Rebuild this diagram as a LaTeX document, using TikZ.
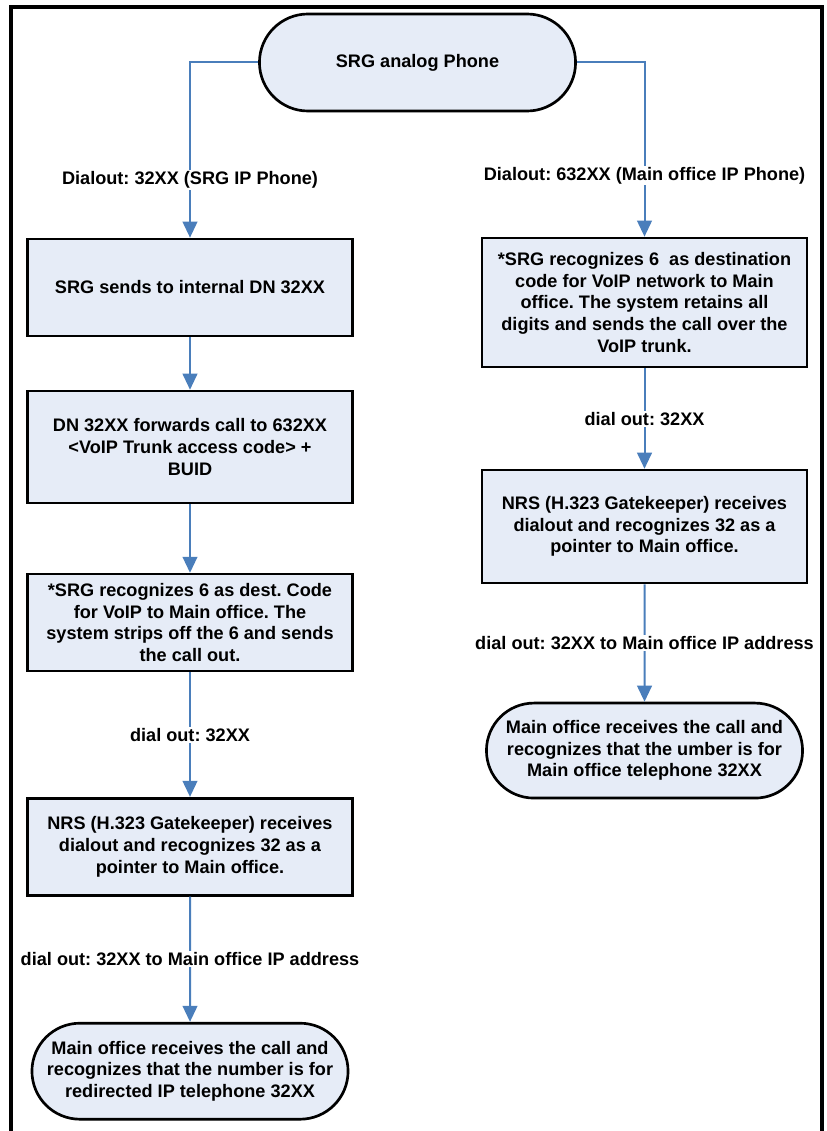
\documentclass[tikz,border=0pt]{standalone}
\usepackage{fontspec}
\setmainfont{Liberation Sans}
\usetikzlibrary{arrows.meta,positioning,shapes.misc,shadows}
\definecolor{flowblue}{RGB}{74,126,187}
\definecolor{boxfill}{RGB}{230,236,247}
\frenchspacing
\tikzset{
  txt/.style={font=\fontsize{13.6pt}{16.3pt}\selectfont\bfseries, align=center, text=black},
  stepbox/.style={rectangle, draw, line width=2pt, fill=boxfill, txt, minimum width=243.75pt, minimum height=72.75pt,
    drop shadow={shadow xshift=0.8pt, shadow yshift=-0.8pt, fill=black!45}},
  term/.style={rounded rectangle, draw, line width=2pt, fill=boxfill, txt, minimum width=243.75pt, minimum height=72.75pt,
    drop shadow={shadow xshift=0.8pt, shadow yshift=-0.8pt, fill=black!45}},
  lbl/.style={txt, fill=white, inner sep=1pt},
  arr/.style={-{Triangle[length=12pt,width=11pt]}, flowblue, line width=1.5pt},
  frame/.style={line width=3pt}
}
\begin{document}
\begin{tikzpicture}[x=0.75pt, y=-0.75pt]
\useasboundingbox (0,0) rectangle (827,1131);
\draw[frame] (10.5,1131) -- (10.5,7) -- (821.5,7) -- (821.5,1131);

\node[term] (phone) at (417.5,62.5) {SRG analog Phone};

\node[stepbox] (sends) at (190,287.5) {SRG sends to internal DN 32XX};
\node[stepbox, minimum height=84pt, below=39.3pt of sends] (fwd) {DN 32XX forwards call to 632XX\\<VoIP Trunk access code> +\\BUID};
\node[stepbox, below=51.3pt of fwd] (strip) {*SRG recognizes 6 as dest. Code\\for VoIP to Main office. The\\system strips off the 6 and sends\\the call out.};
\node[stepbox, below=93.3pt of strip] (nrsl) {NRS (H.323 Gatekeeper) receives\\dialout and recognizes 32 as a\\pointer to Main office.};
\node[term, minimum height=72pt, below=94pt of nrsl] (redir) {Main office receives the call and\\recognizes that the number is for\\redirected IP telephone 32XX};

\node[stepbox, minimum height=96.75pt] (retain) at (644.5,302.5) {*SRG recognizes 6~ as destination\\code for VoIP network to Main\\office. The system retains all\\digits and sends the call over the\\VoIP trunk.};
\node[stepbox, minimum height=84.75pt, below=75.3pt of retain] (nrsr) {NRS (H.323 Gatekeeper) receives\\dialout and recognizes 32 as a\\pointer to Main office.};
\node[term, minimum height=71.25pt, below=88pt of nrsr] (mainoff) {Main office receives the call and\\recognizes that the umber is for\\Main office telephone 32XX};

\draw[arr] (phone.west) -| node[lbl, pos=0.836]{Dialout: 32XX (SRG IP Phone)} (sends);
\draw[arr] (sends) -- (fwd);
\draw[arr] (fwd) -- (strip);
\draw[arr] (strip) -- node[lbl]{dial out: 32XX} (nrsl);
\draw[arr] (nrsl) -- node[lbl]{dial out: 32XX to Main office IP address} (redir);

\draw[arr] (phone.east) -| node[lbl, pos=0.824]{Dialout: 632XX (Main office IP Phone)} (retain);
\draw[arr] (retain) -- node[lbl]{dial out: 32XX} (nrsr);
\draw[arr] (nrsr) -- node[lbl]{dial out: 32XX to Main office IP address} (mainoff);
\end{tikzpicture}
\end{document}
